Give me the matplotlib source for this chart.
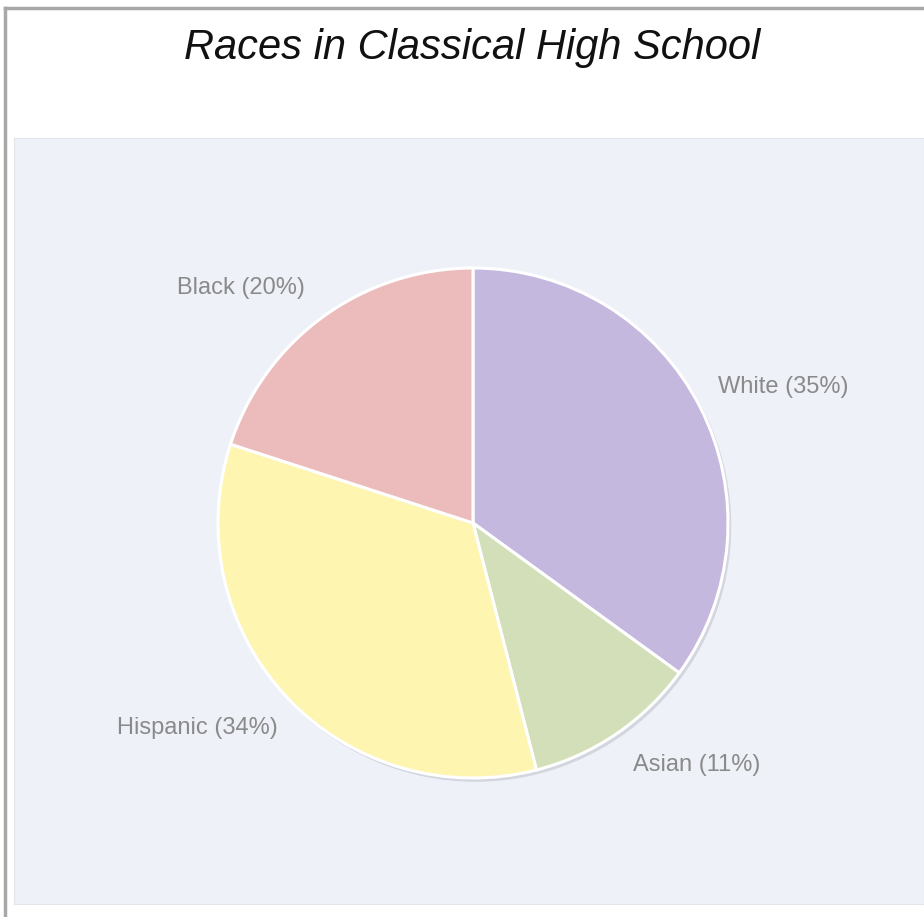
import matplotlib.pyplot as plt
from matplotlib.patches import Circle
from matplotlib.lines import Line2D

# 数据
races = ['White', 'Asian', 'Hispanic', 'Black']
shares = [35, 11, 34, 20]
colors = ['#c5b8de', '#d3dfb8', '#fdf5b0', '#ecbcbc']
labels = [f'{r} ({s}%)' for r, s in zip(races, shares)]
# 标签微调 (相对半径)
label_nudge = [(-0.02, 0.035), (0.01, -0.04), (0.035, -0.05), (-0.012, 0.031)]

plt.rcParams['font.family'] = ['Liberation Sans', 'DejaVu Sans']

fig = plt.figure(figsize=(9.24, 9.17), dpi=100)
fig.patch.set_facecolor('white')

# 外框 (上/左)
fig.add_artist(Line2D([5 / 924, 1], [1 - 8 / 917, 1 - 8 / 917], color='#a8a8a8', lw=2.5))
fig.add_artist(Line2D([5 / 924, 5 / 924], [0, 1 - 8 / 917], color='#a8a8a8', lw=2.5))

fig.text(472 / 924, 1 - 48 / 917, 'Races in Classical High School',
         ha='center', va='center', fontsize=30, fontstyle='italic', color='#111111')

ax = fig.add_axes([14 / 924, 1 - 904 / 917, 910 / 924, 766 / 917])

wedges, texts = ax.pie(shares, labels=labels, colors=colors, startangle=90,
                       counterclock=False, labeldistance=1.1,
                       wedgeprops=dict(edgecolor='white', linewidth=2.2),
                       textprops=dict(color='#8a8a8a', fontsize=17))
for t, (dx, dy) in zip(texts, label_nudge):
    x, y = t.get_position()
    t.set_position((x + dx, y + dy))

# 阴影
ax.add_patch(Circle((0.01, -0.012), 1.0, color='#d3d6de', zorder=0.5))

ax.set_frame_on(True)
for s in ax.spines.values():
    s.set_edgecolor('#e2e5ea')
ax.set_facecolor('#eef1f8')
ax.set_xlim(-459 / 255, 451 / 255)
ax.set_ylim(-381 / 255, 385 / 255)
ax.set_aspect('auto')
ax.set_xticks([])
ax.set_yticks([])

plt.savefig('out.png', dpi=100)
